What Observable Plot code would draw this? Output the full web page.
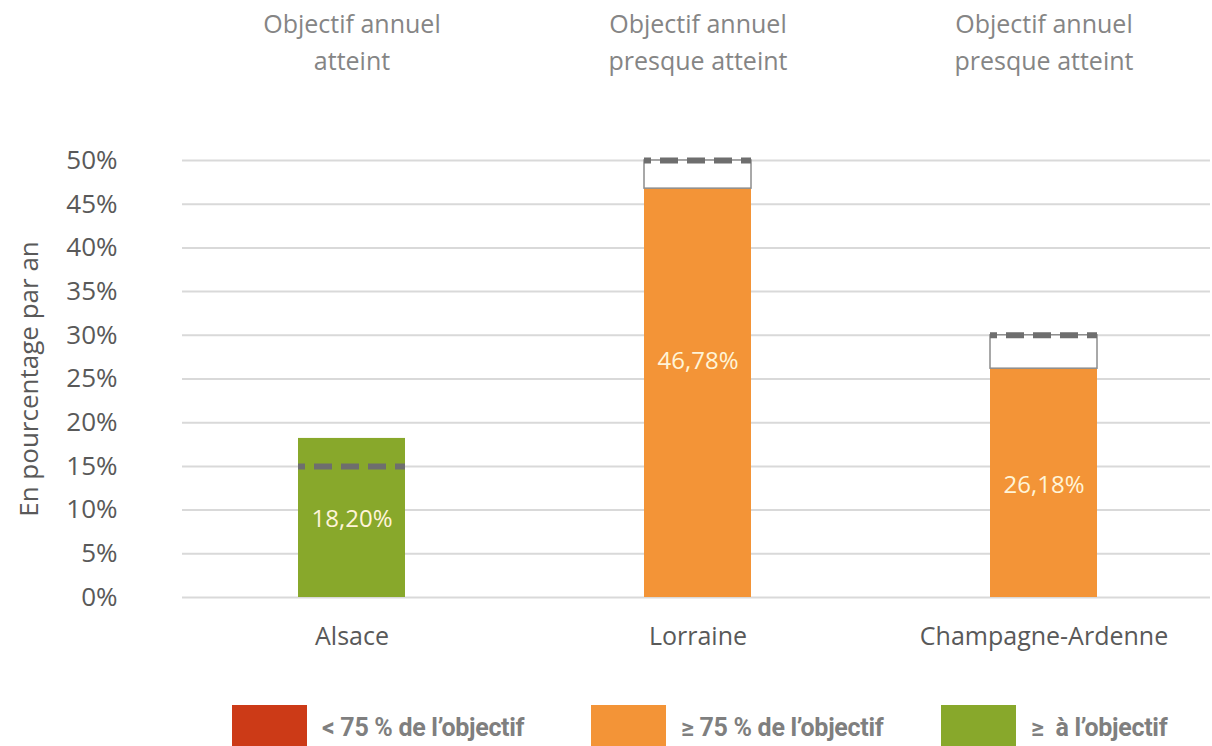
<!DOCTYPE html>
<html>
<head>
<meta charset="utf-8">
<script src="https://cdn.jsdelivr.net/npm/d3@7"></script>
<script src="https://cdn.jsdelivr.net/npm/@observablehq/plot@0.6"></script>
<style>
  body { margin: 0; background: #fff; font-family: "Open Sans", sans-serif; }
  #legend { position: relative; height: 76px; }
  .item { position: absolute; top: 35px; display: flex; align-items: center; }
  .box { width: 75px; height: 44px; margin-right: 15px; }
  .lab { font-family: Roboto, sans-serif; font-weight: bold; font-size: 25px; color: #7f7f7f; letter-spacing: -0.3px; white-space: pre; }
</style>
</head>
<body>
<div id="chart"></div>
<div id="legend"></div>
<script>
const regions = ["Alsace", "Lorraine", "Champagne-Ardenne"];
const values = [18.20, 46.78, 26.18];
const targets = [15, 50, 30];
const notes = ["Objectif annuel\natteint", "Objectif annuel\npresque atteint", "Objectif annuel\npresque atteint"];
const labelAt = [9.0, 27.0, 12.8];
const yTicks = [0, 5, 10, 15, 20, 25, 30, 35, 40, 45, 50];
const legendLabels = ["< 75 % de l’objectif", "≥ 75 % de l’objectif", "≥  à l’objectif"];
const legendColors = ["#cc3a17", "#f39437", "#88a82b"];

const rows = regions.map((r, i) => ({
  region: r,
  value: values[i],
  target: targets[i],
  note: notes[i],
  labelAt: labelAt[i],
  status: values[i] >= targets[i] ? 2 : values[i] >= 0.75 * targets[i] ? 1 : 0
}));
const fmt = v => d3.format(".2f")(v).replace(".", ",") + "%";

const chart = Plot.plot({
  width: 1212,
  height: 670,
  marginTop: 160,
  marginBottom: 73,
  marginLeft: 182,
  marginRight: 2,
  style: { color: "#595959", fontFamily: "'Open Sans', sans-serif", background: "#fff" },
  x: { domain: regions, range: [178, 1218], paddingInner: 0.69, paddingOuter: 0.345 },
  y: { domain: [0, 50] },
  color: { domain: [0, 1, 2], range: legendColors },
  marks: [
    Plot.ruleY(yTicks, { stroke: "#d9d9d9", strokeWidth: 2 }),
    Plot.barY(rows, { x: "region", y: "value", fill: "status" }),
    Plot.rectY(rows.filter(d => d.target > d.value), {
      x: "region", y1: "value", y2: "target", fill: "white", stroke: "#8c8c8c", strokeWidth: 1.5
    }),
    Plot.tickY(rows, {
      x: "region", y: "target", stroke: "#6e6e6e", strokeWidth: 6,
      strokeDasharray: "18,9", strokeDashoffset: 11
    }),
    Plot.text(rows, { x: "region", y: "labelAt", text: d => fmt(d.value), fill: "#fff4d8", fontSize: 24 }),
    Plot.text(rows, {
      x: "region", text: "note", frameAnchor: "top", lineAnchor: "middle",
      dy: -121, lineHeight: 1.48, fontSize: 25, fill: "#858585"
    }),
    Plot.axisX({ tickSize: 0, tickPadding: 30, fontSize: 25, label: null }),
    Plot.axisY(yTicks, {
      tickSize: 0, tickPadding: 65, fontSize: 26, tickFormat: d => d + "%",
      label: "En pourcentage par an", labelAnchor: "center", labelArrow: "none", labelOffset: 163
    })
  ]
});
document.getElementById("chart").appendChild(chart);

const legend = document.getElementById("legend");
const lefts = [232, 591, 941];
legendLabels.forEach((t, i) => {
  const it = document.createElement("div");
  it.className = "item";
  it.style.left = lefts[i] + "px";
  it.innerHTML = `<div class="box" style="background:${legendColors[i]}"></div><span class="lab">${t}</span>`;
  legend.appendChild(it);
});
</script>
</body>
</html>
